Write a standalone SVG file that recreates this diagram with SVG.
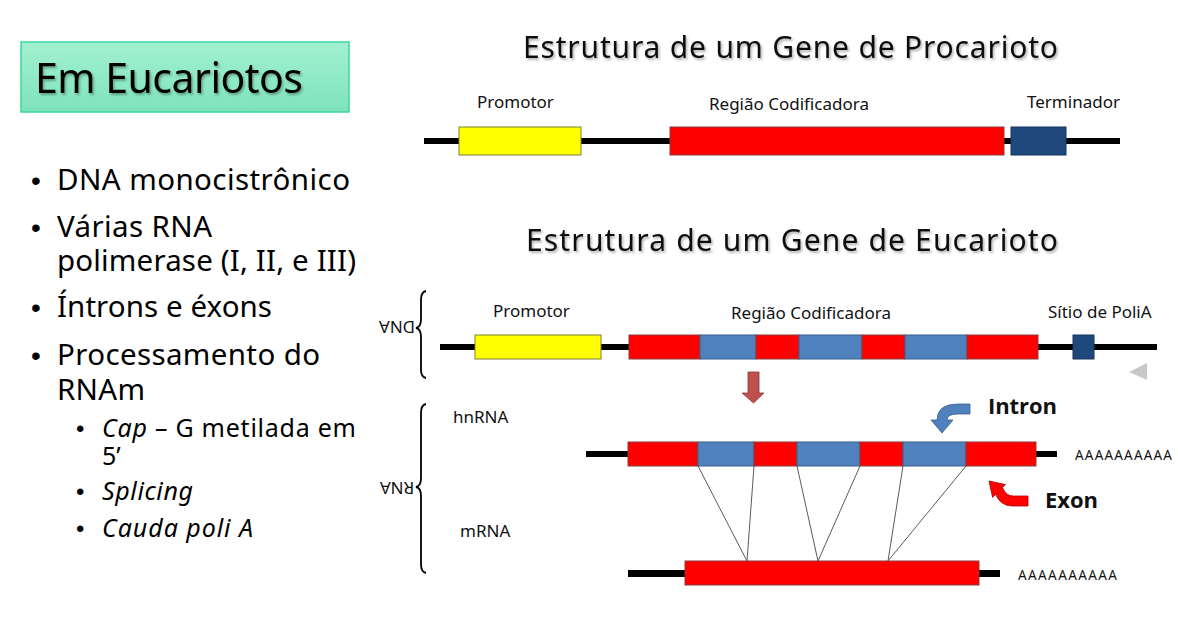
<svg xmlns="http://www.w3.org/2000/svg" width="1178" height="624" viewBox="0 0 1178 624">
<defs>
<linearGradient id="gBox" x1="0" y1="0" x2="0" y2="1">
<stop offset="0" stop-color="#A2F1D0"/>
<stop offset="1" stop-color="#7FE2BD"/>
</linearGradient>
<filter id="sh" x="-5%" y="-20%" width="110%" height="150%">
<feDropShadow dx="1.5" dy="2" stdDeviation="1.2" flood-color="#000" flood-opacity="0.3"/>
</filter>
<style>
.t{font-family:"Noto Sans","Open Sans","Liberation Sans",sans-serif;fill:#000}
.lbl{font-family:"Noto Sans","Open Sans","Liberation Sans",sans-serif;font-size:17px;fill:#111}
.big{font-size:29.5px}
.sub{font-size:25px}
.it{font-style:italic}
.dot{font-family:"Liberation Sans",sans-serif}
.ttl{font-family:"Noto Sans","Open Sans",sans-serif;font-size:30px;fill:#111}
.ln{fill:#000}
.y{fill:#FFFF00;stroke:#7F7F3F;stroke-width:1}
.r{fill:#FF0000;stroke:#8C3B3B;stroke-width:1}
.b{fill:#4F81BD;stroke:#3A5F8C;stroke-width:1}
.db{fill:#1F497D;stroke:#17375E;stroke-width:1}
.sp{stroke:#5A5A5A;stroke-width:1;fill:none}
.br{stroke:#000;stroke-width:1.8;fill:none}
.aa{font-family:"Noto Sans","Liberation Sans",sans-serif;font-size:13.5px;fill:#111}
.bold{font-family:"Open Sans","Noto Sans","Liberation Sans",sans-serif;font-weight:bold;font-size:22px;fill:#111}
</style>
</defs>
<rect width="1178" height="624" fill="#FFFFFF"/>

<g id="left-panel">
<rect x="21" y="42" width="328" height="70" fill="url(#gBox)" stroke="#3FD6A2" stroke-width="1.5"/>
<text class="t" x="35" y="93" font-size="41" textLength="268" filter="url(#sh)">Em Eucariotos</text>
<g id="bullets">
<text class="t dot" x="31" y="190" font-size="28">•</text>
<text class="t big" x="57" y="190" textLength="293">DNA monocistrônico</text>
<text class="t dot" x="31" y="237" font-size="28">•</text>
<text class="t big" x="57" y="237" textLength="155">Várias RNA</text>
<text class="t big" x="57" y="271" textLength="299">polimerase (I, II, e III)</text>
<text class="t dot" x="31" y="317" font-size="28">•</text>
<text class="t big" x="57" y="317" textLength="215">Íntrons e éxons</text>
<text class="t dot" x="31" y="365" font-size="28">•</text>
<text class="t big" x="57" y="365" textLength="263">Processamento do</text>
<text class="t big" x="57" y="400" textLength="88">RNAm</text>
<text class="t dot" x="76" y="437" font-size="24">•</text>
<text class="t sub" x="102" y="437" textLength="254"><tspan class="it">Cap</tspan> – G metilada em</text>
<text class="t sub" x="102" y="465">5’</text>
<text class="t dot" x="76" y="500" font-size="24">•</text>
<text class="t sub it" x="102" y="500" textLength="91">Splicing</text>
<text class="t dot" x="76" y="537" font-size="24">•</text>
<text class="t sub it" x="102" y="537" textLength="151">Cauda poli A</text>
</g>
</g>

<g id="prokaryote">
<text class="ttl" x="523" y="58" textLength="535" filter="url(#sh)">Estrutura de um Gene de Procarioto</text>
<rect class="ln" x="424" y="138" width="696" height="6"/>
<g id="p-promotor"><rect class="y" x="459" y="127" width="122" height="28"/><text class="lbl" x="477" y="108">Promotor</text></g>
<g id="p-codificadora"><rect class="r" x="670" y="127" width="334" height="28"/><text class="lbl" x="709" y="110">Região Codificadora</text></g>
<g id="p-terminador"><rect class="db" x="1011" y="127" width="55" height="28"/><text class="lbl" x="1027" y="108">Terminador</text></g>
</g>

<g id="eukaryote">
<text class="ttl" x="526" y="251" textLength="532" filter="url(#sh)">Estrutura de um Gene de Eucarioto</text>
<g id="dna-brace">
<path class="br" d="M426,291 Q421,292 421,300 L421,319 Q421,327 416,328 Q421,329 421,337 L421,370 Q421,377 426,378"/>
<text class="lbl" transform="translate(397,327) rotate(180)" x="0" y="6" text-anchor="middle" font-size="15">DNA</text>
</g>
<g id="dna">
<rect class="ln" x="440" y="344" width="717" height="6"/>
<rect class="y" x="475" y="335" width="126" height="24"/>
<text class="lbl" x="493" y="317">Promotor</text>
<rect class="r" x="629" y="335" width="71" height="24"/>
<rect class="b" x="700" y="335" width="56" height="24"/>
<rect class="r" x="756" y="335" width="43" height="24"/>
<rect class="b" x="799" y="335" width="63" height="24"/>
<rect class="r" x="862" y="335" width="43" height="24"/>
<rect class="b" x="905" y="335" width="62" height="24"/>
<rect class="r" x="967" y="335" width="71" height="24"/>
<text class="lbl" x="731" y="319">Região Codificadora</text>
<rect class="db" x="1073" y="335" width="21" height="24"/>
<text class="lbl" x="1048" y="318">Sítio de PoliA</text>
<polygon points="1129,372 1147,363 1147,380" fill="#C8C8C8"/>
</g>
<g id="rna-brace">
<path class="br" d="M426,404 Q421,405 421,413 L421,478 Q421,486 416,487 Q421,488 421,496 L421,564 Q421,572 426,573"/>
<text class="lbl" transform="translate(397,488) rotate(180)" x="0" y="6" text-anchor="middle" font-size="15">RNA</text>
</g>
<g id="hnrna">
<text class="lbl" x="453" y="423">hnRNA</text>
<rect class="ln" x="586" y="451" width="471" height="6"/>
<rect class="r" x="628" y="442" width="70" height="24"/>
<rect class="b" x="698" y="442" width="56" height="24"/>
<rect class="r" x="754" y="442" width="43" height="24"/>
<rect class="b" x="797" y="442" width="63" height="24"/>
<rect class="r" x="860" y="442" width="43" height="24"/>
<rect class="b" x="903" y="442" width="63" height="24"/>
<rect class="r" x="966" y="442" width="70" height="24"/>
<text class="aa" x="1075" y="460" textLength="97">AAAAAAAAAA</text>
</g>
<g id="mrna">
<text class="lbl" x="460" y="537">mRNA</text>
<rect class="ln" x="628" y="570" width="372" height="7"/>
<rect class="r" x="685" y="561" width="294" height="24"/>
<text class="aa" x="1018" y="580" textLength="99">AAAAAAAAAA</text>
</g>
<g id="intron-label">
<path d="M970,404 L958,404 Q937,404 937,420 L931,420 L942,433 L953,420 L947,420 Q947,414 958,414 L970,414 Z" fill="#4F81BD" stroke="#3A5F8C" stroke-width="0.8"/>
<text class="bold" x="988" y="414" textLength="69">Intron</text>
</g>
<g id="exon-label">
<path d="M1028,506 L1012,506 Q1001,506 995.5,494.5 L992.6,497.4 L989,481 L1005.4,484.6 L1002.5,487.5 Q1006,496 1013,496 L1028,496 Z" fill="#FF0000" stroke="#B00000" stroke-width="0.8"/>
<text class="bold" x="1045" y="508" textLength="53">Exon</text>
</g>
</g>

<g id="connectors">
<path d="M748,372 L759,372 L759,393 L764,393 L753.5,403 L742,393 L748,393 Z" fill="#C0504D" stroke="#8C3836" stroke-width="0.8"/>
<line class="sp" x1="698" y1="466" x2="747" y2="561"/>
<line class="sp" x1="754" y1="466" x2="747" y2="561"/>
<line class="sp" x1="797" y1="466" x2="818" y2="561"/>
<line class="sp" x1="860" y1="466" x2="818" y2="561"/>
<line class="sp" x1="903" y1="466" x2="888" y2="561"/>
<line class="sp" x1="966" y1="466" x2="888" y2="561"/>
</g>
</svg>
